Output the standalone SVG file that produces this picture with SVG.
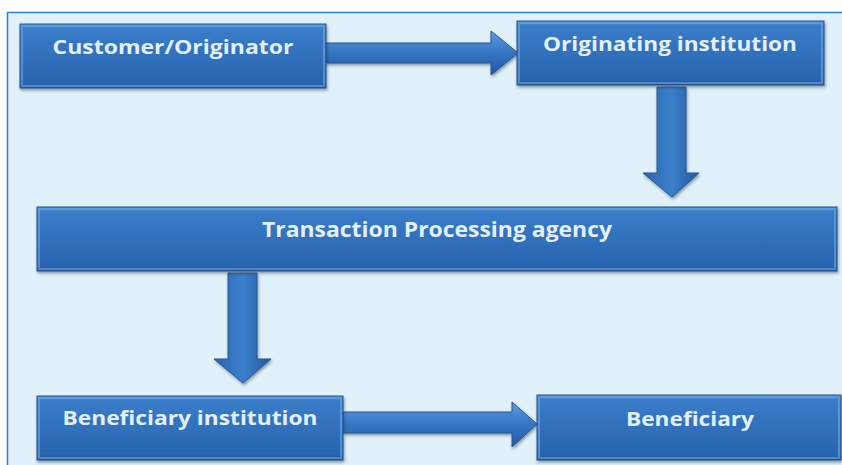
<svg xmlns="http://www.w3.org/2000/svg" width="842" height="465" viewBox="0 0 842 465">
<defs>
<linearGradient id="gBox" x1="0" y1="0" x2="0" y2="1">
<stop offset="0" stop-color="#4a90d8"/>
<stop offset="0.08" stop-color="#3a7cc8"/>
<stop offset="0.5" stop-color="#3070bc"/>
<stop offset="0.92" stop-color="#2a64ae"/>
<stop offset="1" stop-color="#214f8c"/>
</linearGradient>
<linearGradient id="gH" x1="0" y1="0" x2="0" y2="1">
<stop offset="0" stop-color="#5a9be0"/>
<stop offset="0.5" stop-color="#3576c4"/>
<stop offset="1" stop-color="#2458a0"/>
</linearGradient>
<linearGradient id="gV" x1="0" y1="0" x2="1" y2="0">
<stop offset="0" stop-color="#2a62ac"/>
<stop offset="0.5" stop-color="#3a80cc"/>
<stop offset="1" stop-color="#2458a0"/>
</linearGradient>
<filter id="sh" x="-5%" y="-10%" width="110%" height="130%">
<feDropShadow dx="1" dy="2" stdDeviation="1.5" flood-color="#1a2a40" flood-opacity="0.45"/>
</filter>
</defs>
<style>
.box{fill:url(#gBox);stroke:#2a5690;stroke-width:1;filter:url(#sh)}
.bevel{fill:none;stroke:#6fa8e4;stroke-width:2;opacity:0.6}
.lbl{font-family:"Open Sans","DejaVu Sans",sans-serif;font-weight:bold;font-size:20px;fill:#e3f0fb;text-anchor:middle}
.arH{fill:url(#gH);stroke:#2a5690;stroke-width:1;filter:url(#sh)}
.arV{fill:url(#gV);stroke:#2a5690;stroke-width:1;filter:url(#sh)}
</style>
<rect x="0" y="0" width="842" height="465" fill="#ffffff"/>
<rect x="7.5" y="12.5" width="840" height="460" fill="#e1f1f9" stroke="#1f82d2" stroke-width="1.5"/>
<g id="connectors">
<path class="arH" d="M326,43 L491,43 L491,31 L518,53 L491,75 L491,63 L326,63 Z"/>
<path class="arV" d="M657,87 L686,87 L686,173 L699,173 L672,197 L643,173 L657,173 Z"/>
<path class="arV" d="M228,273 L257,273 L257,359 L271,359 L243,383 L214,359 L228,359 Z"/>
<path class="arH" d="M343,412 L512,412 L512,402 L537,424 L512,447 L512,433 L343,433 Z"/>
</g>
<g id="n1">
<rect class="box" x="20" y="24" width="306" height="64"/>
<rect class="bevel" x="22" y="26" width="302" height="60"/>
<text class="lbl" x="173" y="54" textLength="241" lengthAdjust="spacingAndGlyphs">Customer/Originator</text>
</g>
<g id="n2">
<rect class="box" x="517" y="21" width="307" height="64"/>
<rect class="bevel" x="519" y="23" width="303" height="60"/>
<text class="lbl" x="670" y="51" textLength="254" lengthAdjust="spacingAndGlyphs">Originating institution</text>
</g>
<g id="n3">
<rect class="box" x="37" y="207" width="800" height="64"/>
<rect class="bevel" x="39" y="209" width="796" height="60"/>
<text class="lbl" x="437" y="237" style="font-size:22px" textLength="350" lengthAdjust="spacingAndGlyphs">Transaction Processing agency</text>
</g>
<g id="n4">
<rect class="box" x="37" y="396" width="306" height="64"/>
<rect class="bevel" x="39" y="398" width="302" height="60"/>
<text class="lbl" x="190" y="425" textLength="255" lengthAdjust="spacingAndGlyphs">Beneficiary institution</text>
</g>
<g id="n5">
<rect class="box" x="537" y="395" width="304" height="65"/>
<rect class="bevel" x="539" y="397" width="300" height="61"/>
<text class="lbl" x="690" y="426" textLength="128" lengthAdjust="spacingAndGlyphs">Beneficiary</text>
</g>
</svg>
